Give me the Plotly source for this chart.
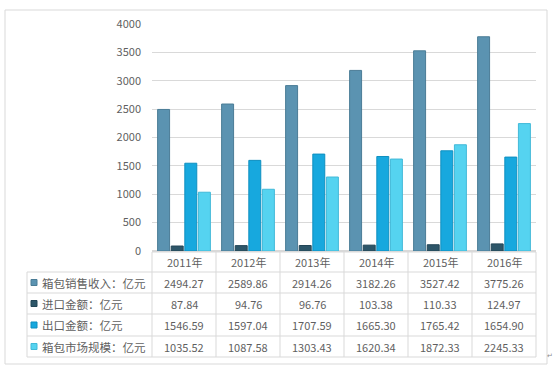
import plotly.graph_objects as go

years = ["2011年", "2012年", "2013年", "2014年", "2015年", "2016年"]
series_names = ["箱包销售收入：亿元", "进口金额：亿元", "出口金额：亿元", "箱包市场规模：亿元"]
sales = [2494.27, 2589.86, 2914.26, 3182.26, 3527.42, 3775.26]
imports = [87.84, 94.76, 96.76, 103.38, 110.33, 124.97]
exports = [1546.59, 1597.04, 1707.59, 1665.30, 1765.42, 1654.90]
market = [1035.52, 1087.58, 1303.43, 1620.34, 1872.33, 2245.33]
y_ticks = [0, 500, 1000, 1500, 2000, 2500, 3000, 3500, 4000]

series_values = [sales, imports, exports, market]
colors = ["#5b93b1", "#2d5669", "#17a8de", "#55d3f0"]
line_colors = ["#4a7c96", "#234657", "#0f8fc0", "#42b9d8"]

W, H = 555, 377
L, R, T, B = 152, 536, 24, 251
PW, PH = R - L, B - T


def px(x):
    return (x - L) / PW


def py(y):
    return (B - y) / PH


fig = go.Figure()
for name, vals, c, lc in zip(series_names, series_values, colors, line_colors):
    fig.add_trace(go.Bar(x=years, y=vals, name=name, marker=dict(color=c, line=dict(color=lc, width=1))))

grid = "#d9d9d9"
shapes = []
shapes.append(dict(type="rect", xref="paper", yref="paper", x0=px(5), x1=px(547), y0=py(10), y1=py(364),
                   line=dict(color=grid, width=1), layer="below"))
row_lines = [252, 272, 293, 314, 336, 357]
for i, yy in enumerate(row_lines):
    x0 = 152 if i == 0 else 27
    shapes.append(dict(type="line", xref="paper", yref="paper", x0=px(x0), x1=px(536), y0=py(yy), y1=py(yy),
                       line=dict(color=grid, width=1)))
shapes.append(dict(type="line", xref="paper", yref="paper", x0=px(27), x1=px(27), y0=py(272), y1=py(357),
                   line=dict(color=grid, width=1)))
for k in range(7):
    xx = 152 + 64 * k
    shapes.append(dict(type="line", xref="paper", yref="paper", x0=px(xx), x1=px(xx), y0=py(252), y1=py(357),
                       line=dict(color=grid, width=1)))

annotations = []
txt_color = "#5f5f5f"
font_cjk = dict(family="Noto Sans CJK SC", size=11.5, color=txt_color)
font_num = dict(family="Noto Sans CJK SC", size=11, color=txt_color)
row_centers = [282.5, 303.5, 325, 346.5]
for yr in years:
    annotations.append(dict(x=yr, xref="x", y=py(262), yref="paper", text=yr, showarrow=False,
                            font=font_num, xanchor="center", yanchor="middle"))
for r, (name, vals, c, lc) in enumerate(zip(series_names, series_values, colors, line_colors)):
    yc = row_centers[r]
    shapes.append(dict(type="rect", xref="paper", yref="paper", x0=px(31), x1=px(37), y0=py(yc - 3), y1=py(yc + 3),
                       fillcolor=c, line=dict(color=lc, width=1)))
    annotations.append(dict(x=px(40), xref="paper", y=py(yc), yref="paper", text=name, showarrow=False,
                            font=font_cjk, xanchor="left", yanchor="middle"))
    for k, v in enumerate(vals):
        annotations.append(dict(x=years[k], xref="x", y=py(yc), yref="paper", text=f"{v:.2f}", showarrow=False,
                                font=font_num, xanchor="center", yanchor="middle"))
annotations.append(dict(x=px(550), xref="paper", y=py(356), yref="paper", text="↵", showarrow=False,
                        font=dict(family="DejaVu Sans", size=7, color="#8c8c8c"), xanchor="center", yanchor="middle"))

fig.update_layout(
    width=W, height=H,
    margin=dict(l=L, r=W - R, t=T, b=H - B, pad=0),
    paper_bgcolor="white", plot_bgcolor="white",
    barmode="group", bargap=0.15, bargroupgap=0.12,
    showlegend=False,
    shapes=shapes, annotations=annotations,
    font=dict(family="Noto Sans CJK SC", color=txt_color),
)
fig.update_xaxes(showticklabels=False, showline=False, showgrid=False, zeroline=False)
fig.update_yaxes(range=[0, 4000], tickvals=y_ticks, ticktext=[str(t) for t in y_ticks],
                 showgrid=True, gridcolor=grid, gridwidth=1, zeroline=True, zerolinecolor=grid,
                 showline=False, ticks="", ticklabelstandoff=10,
                 tickfont=dict(family="Noto Sans CJK SC", size=11, color=txt_color))

fig.write_html("out.html", config={"displayModeBar": False},
               post_script="document.body.style.margin='0px';")
